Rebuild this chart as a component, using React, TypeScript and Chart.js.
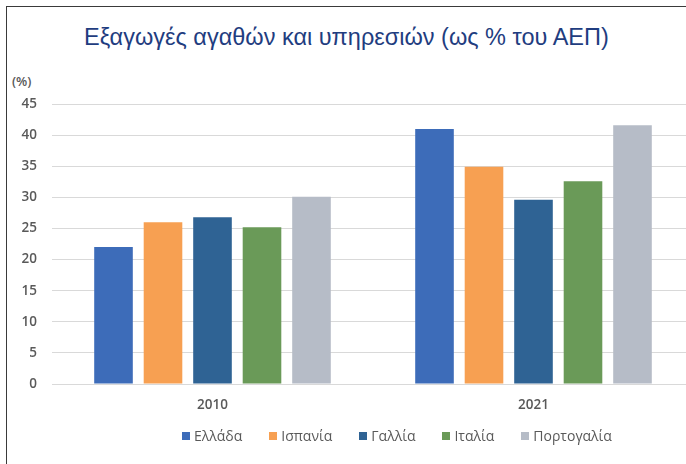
import React, { useEffect, useRef } from "react";
import { Chart, registerables } from "chart.js";

Chart.register(...registerables);

const categories = ["2010", "2021"];
const seriesNames = ["Ελλάδα", "Ισπανία", "Γαλλία", "Ιταλία", "Πορτογαλία"];
const greece = [22.0, 41.0];
const spain = [26.0, 34.9];
const france = [26.8, 29.6];
const italy = [25.2, 32.6];
const portugal = [30.1, 41.6];
const yTicks = [0, 5, 10, 15, 20, 25, 30, 35, 40, 45];
const titleText = "Εξαγωγές αγαθών και υπηρεσιών (ως % του ΑΕΠ)";
const unitText = "(%)";

const seriesValues = [greece, spain, france, italy, portugal];
const colors = ["#3d6cb9", "#f7a052", "#2f6394", "#6a9a58", "#b6bcc7"];

export default function App() {
  const canvasRef = useRef<HTMLCanvasElement | null>(null);

  useEffect(() => {
    if (!canvasRef.current) return;
    Chart.defaults.font.family = "'Open Sans', sans-serif";
    const chart = new Chart(canvasRef.current, {
      type: "bar",
      data: {
        labels: categories,
        datasets: seriesNames.map((name, i) => ({
          label: name,
          data: seriesValues[i],
          backgroundColor: colors[i],
          borderWidth: 0,
          categoryPercentage: 0.771,
          barPercentage: 0.78,
        })),
      },
      options: {
        animation: false,
        responsive: true,
        maintainAspectRatio: false,
        layout: { padding: { top: 96, right: 14, left: 0, bottom: 0 } },
        plugins: {
          legend: { display: false },
          title: { display: false },
          tooltip: { enabled: false },
        },
        scales: {
          x: {
            grid: { display: false, drawTicks: false },
            border: { display: false },
            ticks: {
              padding: 13,
              color: "#595959",
              font: { size: 13.5, weight: "600" },
            },
            afterFit: (scale: any) => {
              scale.height = 44;
            },
          },
          y: {
            min: 0,
            max: 45,
            afterBuildTicks: (scale: any) => {
              scale.ticks = yTicks.map((v) => ({ value: v }));
            },
            grid: { color: "#d9d9d9", lineWidth: 1, drawTicks: false },
            border: { display: false },
            ticks: {
              padding: 15,
              color: "#595959",
              font: { size: 13.5, weight: "600" },
            },
            afterFit: (scale: any) => {
              scale.width = 44;
            },
          },
        },
      },
    });
    return () => chart.destroy();
  }, []);

  return (
    <div
      style={{
        position: "fixed",
        left: 0,
        top: 0,
        width: 686,
        height: 464,
        overflow: "hidden",
        background: "#ffffff",
      }}
    >
      <div
        style={{
          position: "absolute",
          left: 6,
          top: 6,
          width: 720,
          height: 480,
          borderLeft: "1.5px solid #3a3a3a",
          borderTop: "1.5px solid #3a3a3a",
        }}
      />
      <div
        style={{
          position: "absolute",
          left: 84,
          top: 24,
          fontFamily: "'Liberation Sans', Arial, sans-serif",
          fontSize: 23.5,
          lineHeight: "26px",
          color: "#1f3d80",
          whiteSpace: "nowrap",
        }}
      >
        {titleText}
      </div>
      <div
        style={{
          position: "absolute",
          left: 12,
          top: 72,
          fontFamily: "'Open Sans', sans-serif",
          fontSize: 13,
          fontWeight: 600,
          lineHeight: "18px",
          color: "#595959",
        }}
      >
        {unitText}
      </div>
      <div
        style={{
          position: "absolute",
          left: 8,
          top: 8,
          width: 700,
          height: 420,
        }}
      >
        <canvas ref={canvasRef} />
      </div>
      <div
        style={{
          position: "absolute",
          left: 182,
          top: 427,
          display: "flex",
          gap: 27,
          alignItems: "center",
          fontFamily: "'Open Sans', sans-serif",
          fontSize: 14,
          lineHeight: "18px",
          color: "#595959",
          whiteSpace: "nowrap",
        }}
      >
        {seriesNames.map((name, i) => (
          <div key={name} style={{ display: "flex", alignItems: "center", gap: 4 }}>
            <span
              style={{
                display: "inline-block",
                width: 8,
                height: 8,
                background: colors[i],
              }}
            />
            <span>{name}</span>
          </div>
        ))}
      </div>
    </div>
  );
}
